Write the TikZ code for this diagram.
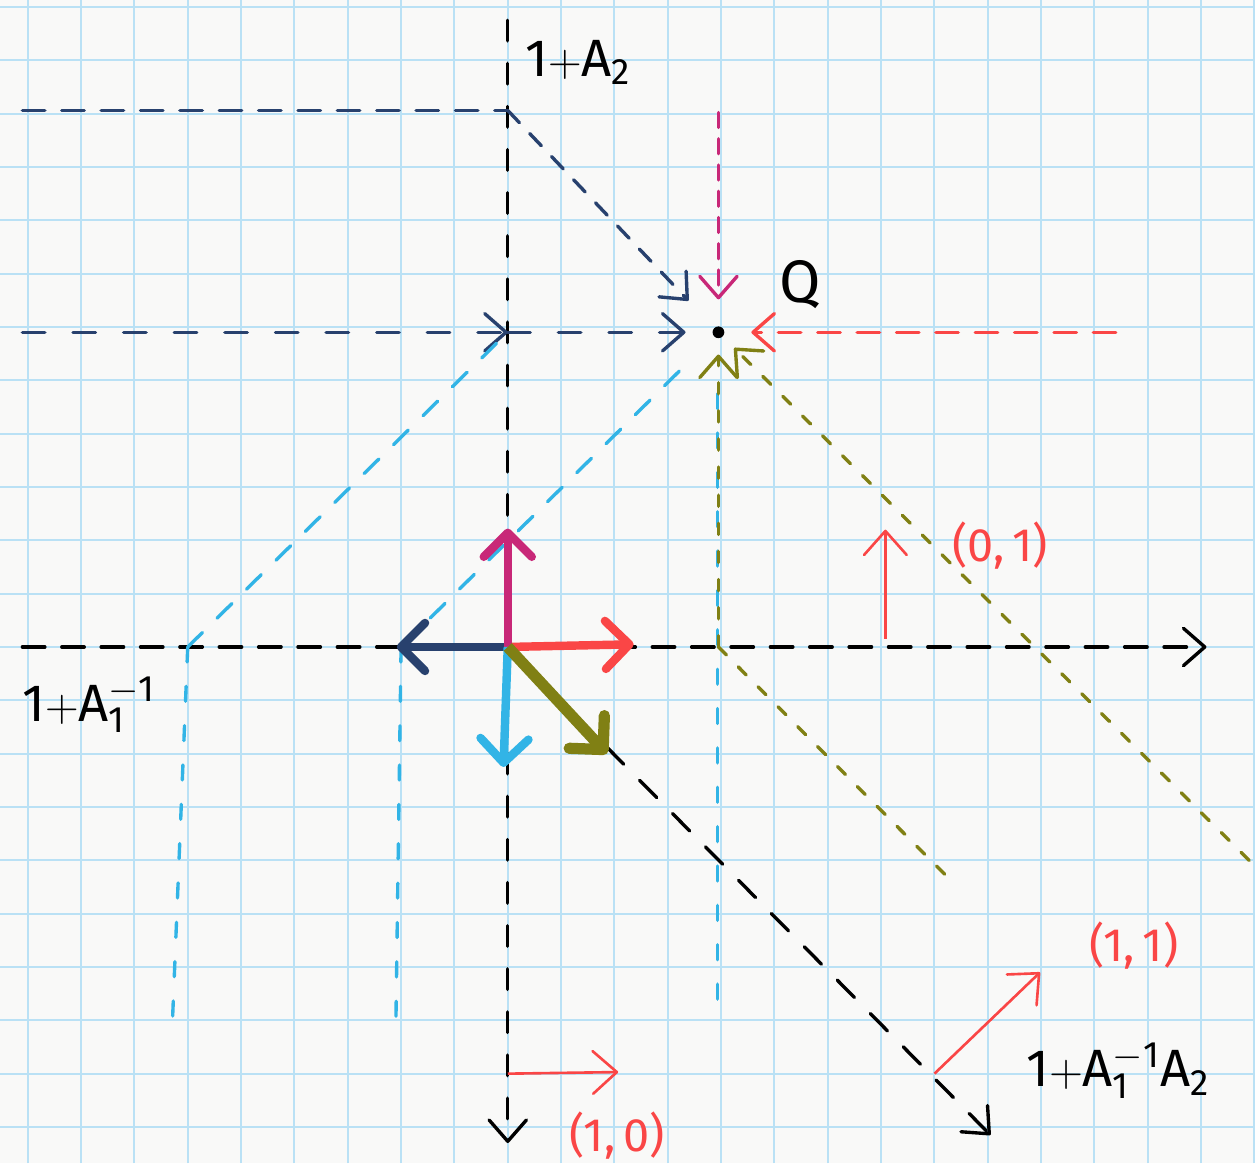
\documentclass[tikz,border=0pt]{standalone}
\usepackage{fontspec}
\setmainfont{Fira Sans}
\usetikzlibrary{arrows.meta}
\definecolor{gridblue}{RGB}{186,225,245}
\definecolor{paper}{RGB}{249,249,248}
\definecolor{qnavy}{RGB}{40,65,110}
\definecolor{qpink}{RGB}{200,40,120}
\definecolor{qred}{RGB}{250,70,70}
\definecolor{qcyan}{RGB}{50,180,230}
\definecolor{qolive}{RGB}{128,128,20}
\begin{document}
\begin{tikzpicture}[
  lab/.style={font=\fontsize{25}{29}\selectfont, inner sep=0pt},
  biglab/.style={font=\fontsize{28}{32}\selectfont, inner sep=0pt},
  tip/.style={-{Straight Barb[length=4mm,width=7mm,round]}},
  dsh/.style={line width=1.8pt, line cap=round, dash pattern=on 12pt off 9pt},
  dshol/.style={line width=1.8pt, line cap=round, dash pattern=on 6pt off 9pt},
  vec/.style={line width=4.5pt, -{Straight Barb[length=4.5mm,width=9mm,round]}},
  thin/.style={line width=1.4pt, -{Straight Barb[length=4.5mm,width=8mm,round]}}
]
\useasboundingbox (-9.52,-9.68) rectangle (14.01,12.13);
\fill[paper] (-9.52,-9.68) rectangle (14.01,12.13);
\draw[gridblue, line width=1.1pt] (-9.52,-9.68) grid (14.01,12.13);

\coordinate (O) at (0,0);
\coordinate (xL) at (-9.1,0);
\coordinate (xR) at (13.1,0);
\coordinate (yT) at (0,11.75);
\coordinate (yB) at (0,-9.3);
\coordinate (dB) at (9.05,-9.15);
\coordinate (nT) at (-9.1,10.06);
\coordinate (nTA) at (0,10.06);
\coordinate (nM) at (-9.1,5.9);
\coordinate (nMA) at (0,5.9);
\coordinate (pT) at (3.95,10.02);
\coordinate (rR) at (11.4,5.9);
\coordinate (cL) at (-6,0);
\coordinate (cLb) at (-6.3,-7.35);
\coordinate (cM) at (-2,0);
\coordinate (cMb) at (-2.1,-7.25);
\coordinate (cQt) at (3.93,4.75);
\coordinate (cQb) at (3.93,-6.9);
\coordinate (oA) at (3.95,0);
\coordinate (oR) at (13.9,-4.0);
\coordinate (oB) at (8.3,-4.37);
\node[circle, fill=black, inner sep=0pt, minimum size=2.2mm] (Q) at (3.95,5.9) {};
\node[lab, font=\fontsize{32}{36}\selectfont] (QL) at (5.49,6.8) {Q};

\draw[dsh, tip] (xL) -- (xR);
\draw[dsh, tip, dash pattern=on 11pt off 12pt] (yT) -- (yB);
\draw[dsh, tip, dash pattern=on 13pt off 12pt] (O) -- (dB);

\draw[dsh, qnavy] (nT) -- (nTA);
\draw[dsh, qnavy, tip, dash pattern=on 9pt off 8pt, shorten >=7mm] (nTA) -- (Q);
\draw[dsh, qnavy, tip, dash pattern=on 12pt off 15pt] (nM) -- (nMA);
\draw[dsh, qnavy, tip, dash pattern=on 12pt off 15pt, shorten >=5mm] (nMA) -- (Q);
\draw[dsh, qpink, tip, dash pattern=on 8pt off 6pt, shorten >=5mm] (pT) -- (Q);
\draw[dsh, qred, tip, shorten >=5mm] (rR) -- (Q);

\draw[dsh, qcyan, dash pattern=on 11pt off 11pt] (cL) -- (nMA);
\draw[dsh, qcyan, dash pattern=on 8pt off 13pt] (cL) -- (cLb);
\draw[dsh, qcyan, dash pattern=on 11pt off 11pt, shorten >=6mm] (cM) -- (Q);
\draw[dsh, qcyan, dash pattern=on 8pt off 13pt] (cM) -- (cMb);
\draw[dsh, qcyan, dash pattern=on 8pt off 13pt] (cQt) -- (cQb);

\draw[dshol, qolive, tip, shorten >=3mm] (oA) -- (Q);
\draw[dshol, qolive, tip, shorten >=3mm] (oR) -- (Q);
\draw[dshol, qolive] (oA) -- (oB);

\draw[vec, qnavy] (O) -- (-2.08,0);
\draw[vec, qred] (O) -- (2.36,0.05);
\draw[vec, qpink] (O) -- (0,2.22);
\draw[vec, qcyan] (O) -- (-0.08,-2.25);
\draw[vec, qolive, line width=6pt] (O) -- (1.86,-2.0);

\draw[thin, qred] (7.08,0.15) -- (7.08,2.2);
\draw[thin, qred] (0,-8) -- (2.07,-7.97);
\draw[thin, qred] (8,-8) -- (9.98,-6.1);

\node[biglab] (LA2) at (1.32,10.96) {$\mathrm{1{+}A_2}$};
\node[biglab] (LA1) at (-7.85,-1.09) {$\mathrm{1{+}A_1^{-1}}$};
\node[biglab] (LA12) at (11.44,-7.94) {$\mathrm{1{+}A_1^{-1}A_2}$};
\node[lab, qred] (L01) at (9.23,1.91) {(0,\,1)};
\node[lab, qred] (L10) at (2.05,-9.16) {(1,\,0)};
\node[lab, qred] (L11) at (11.74,-5.59) {(1,\,1)};
\end{tikzpicture}
\end{document}
